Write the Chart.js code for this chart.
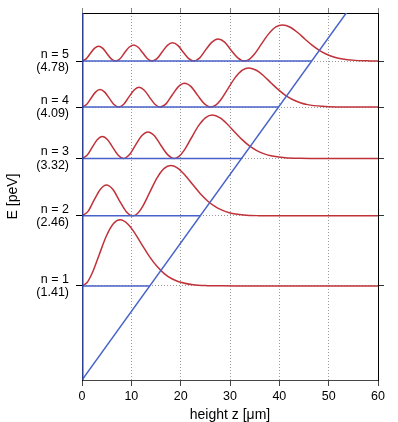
<!DOCTYPE html>
<html><head><meta charset="utf-8">
<script src="https://cdn.jsdelivr.net/npm/chart.js@4"></script>
<style>html,body{margin:0;padding:0;background:#fff}#wrap{width:398px;height:422px}</style>
</head><body><div id="wrap"><canvas id="c" width="398" height="422"></canvas></div>
<script>
// ---- data ----
const levelN = [1, 2, 3, 4, 5];
const levelE = [1.41, 2.46, 3.32, 4.09, 4.78];      // peV
const turnZ  = [13.7, 24.0, 32.4, 39.9, 46.6];      // µm, classical turning points
const potZ   = [0, 60];
const potE   = [0, 6.16];
const wallZ  = [0, 0];
const wallE  = [0, 5.5];
const xStep  = 10;

// probability densities above each level (peV units of the plot)
const psi1Z = [0, 0.99, 1.98, 3.45, 4.92, 6.39, 7.74, 9.32, 10.79, 12.26, 13.72, 15.19, 16.66, 18.13, 19.60, 22.53, 25.47, 28.40, 31.34, 60];
const psi1D = [0, 0.047, 0.178, 0.461, 0.744, 0.934, 0.990, 0.925, 0.781, 0.605, 0.435, 0.293, 0.185, 0.111, 0.063, 0.018, 0.004, 0.001, 0, 0];

const psi2Z = [0, 1.23, 2.47, 3.70, 4.93, 6.27, 7.60, 8.94, 10.27, 11.26, 12.25, 13.72, 15.19, 16.66, 18.01, 19.59, 21.06, 22.53, 23.99, 25.46, 26.93, 28.40, 29.87, 32.80, 35.74, 38.67, 41.61, 60];
const psi2D = [0, 0.067, 0.238, 0.395, 0.462, 0.395, 0.225, 0.067, 0, 0.036, 0.136, 0.351, 0.567, 0.712, 0.755, 0.705, 0.595, 0.461, 0.331, 0.223, 0.141, 0.085, 0.048, 0.014, 0.003, 0.001, 0, 0];

const psi3Z = [0, 1.03, 2.06, 3.09, 4.12, 5.19, 6.26, 7.34, 8.41, 9.64, 10.88, 12.11, 13.34, 14.68, 16.01, 17.35, 18.68, 19.67, 20.66, 22.13, 23.60, 25.07, 26.42, 28.00, 29.47, 30.94, 32.40, 33.87, 35.34, 36.81, 38.28, 41.21, 44.15, 47.08, 50.02, 60];
const psi3D = [0, 0.048, 0.166, 0.280, 0.328, 0.280, 0.162, 0.048, 0, 0.058, 0.205, 0.340, 0.398, 0.340, 0.194, 0.058, 0, 0.031, 0.117, 0.303, 0.488, 0.613, 0.650, 0.608, 0.513, 0.397, 0.286, 0.192, 0.122, 0.073, 0.041, 0.012, 0.003, 0.001, 0, 0];

const psi4Z = [0, 0.92, 1.83, 2.75, 3.66, 4.60, 5.55, 6.49, 7.43, 8.46, 9.49, 10.52, 11.55, 12.62, 13.70, 14.77, 15.84, 17.07, 18.31, 19.54, 20.77, 22.11, 23.45, 24.78, 26.12, 27.11, 28.10, 29.57, 31.04, 32.51, 33.86, 35.44, 36.91, 38.38, 39.84, 41.31, 42.78, 44.25, 45.72, 48.65, 51.59, 54.52, 57.46, 60];
const psi4D = [0, 0.038, 0.133, 0.224, 0.262, 0.224, 0.130, 0.038, 0, 0.043, 0.150, 0.253, 0.296, 0.253, 0.146, 0.043, 0, 0.052, 0.185, 0.307, 0.359, 0.307, 0.175, 0.052, 0, 0.028, 0.106, 0.273, 0.441, 0.553, 0.587, 0.548, 0.463, 0.358, 0.258, 0.173, 0.110, 0.066, 0.037, 0.011, 0.002, 0.001, 0, 0];

const psi5Z = [0, 0.84, 1.68, 2.52, 3.36, 4.22, 5.08, 5.93, 6.79, 7.71, 8.62, 9.54, 10.45, 11.39, 12.34, 13.28, 14.22, 15.25, 16.28, 17.31, 18.34, 19.42, 20.49, 21.57, 22.64, 23.87, 25.10, 26.34, 27.57, 28.91, 30.24, 31.58, 32.91, 33.90, 34.89, 36.36, 37.83, 39.30, 40.65, 42.23, 43.70, 45.17, 46.63, 48.10, 49.57, 51.04, 52.51, 55.44, 58.38, 60];
const psi5D = [0, 0.032, 0.112, 0.190, 0.222, 0.190, 0.110, 0.032, 0, 0.035, 0.123, 0.207, 0.242, 0.207, 0.120, 0.035, 0, 0.040, 0.139, 0.234, 0.274, 0.234, 0.135, 0.040, 0, 0.048, 0.171, 0.284, 0.332, 0.284, 0.161, 0.048, 0, 0.026, 0.098, 0.253, 0.407, 0.512, 0.542, 0.507, 0.428, 0.331, 0.238, 0.160, 0.102, 0.061, 0.035, 0.010, 0.002, 0.001];

// ---- build ----
const FONT = "'Liberation Sans', Arial, Helvetica, sans-serif";
const BLUE = '#4762c9';
const RED = '#c0323a';
const psiZ = [psi1Z, psi2Z, psi3Z, psi4Z, psi5Z];
const psiD = [psi1D, psi2D, psi3D, psi4D, psi5D];

const pts = (xs, ys) => xs.map((x, i) => ({x: x, y: ys[i]}));
const base = {pointRadius: 0, fill: false, tension: 0, borderCapStyle: 'butt'};

const datasets = [];
datasets.push(Object.assign({}, base, {data: pts(wallZ, wallE), borderColor: '#2b3f93', borderWidth: 3}));
levelE.forEach((E, i) => {
  datasets.push(Object.assign({}, base, {data: pts([0, turnZ[i]], [E, E]), borderColor: BLUE, borderWidth: 1.5}));
});
datasets.push(Object.assign({}, base, {data: pts(potZ, potE), borderColor: BLUE, borderWidth: 1.5}));
levelE.forEach((E, i) => {
  datasets.push(Object.assign({}, base, {
    data: pts(psiZ[i], psiD[i].map(d => E + d)),
    borderColor: RED, borderWidth: 1.5, cubicInterpolationMode: 'monotone'
  }));
});

const noPad = s => { s.paddingTop = 0; s.paddingBottom = 0; s.paddingLeft = 0; s.paddingRight = 0; };
const levelTicks = s => { s.ticks = levelE.map(v => ({value: v})); };

new Chart(document.getElementById('c'), {
  type: 'line',
  data: {datasets: datasets},
  options: {
    responsive: false,
    animation: false,
    devicePixelRatio: 1,
    events: [],
    layout: {padding: 0},
    plugins: {legend: {display: false}, tooltip: {enabled: false}},
    scales: {
      x: {
        type: 'linear', position: 'bottom', min: 0, max: 60,
        afterFit: s => { s.height = 42; noPad(s); },
        ticks: {stepSize: xStep, color: '#000', font: {family: FONT, size: 12.5}, padding: 3, maxRotation: 0},
        grid: {
          color: c => (c.tick && (c.tick.value === 0 || c.tick.value === 60)) ? 'rgba(0,0,0,0)' : '#9a9a9a',
          lineWidth: 1, tickColor: '#444', tickLength: 6
        },
        border: {color: '#444', width: 1, dash: [1, 2]},
        title: {display: true, text: 'height z [μm]', color: '#000', font: {family: FONT, size: 14, lineHeight: 1}, padding: {top: 0, bottom: 0}}
      },
      x2: {
        type: 'linear', position: 'top', min: 0, max: 60,
        afterFit: s => { s.height = 13; noPad(s); },
        ticks: {display: false, stepSize: xStep},
        grid: {drawOnChartArea: false, tickColor: '#808080', tickLength: 5},
        border: {color: '#000', width: 1}
      },
      y: {
        type: 'linear', position: 'left', min: 0, max: 5.5,
        afterBuildTicks: levelTicks,
        afterFit: s => { s.width = 82; noPad(s); },
        ticks: {
          autoSkip: false, color: '#000', font: {family: FONT, size: 12.5, lineHeight: 1.08}, padding: 7,
          callback: (v, i) => ['n = ' + levelN[i], '(' + levelE[i].toFixed(2) + ')']
        },
        grid: {color: '#9a9a9a', lineWidth: 1, tickColor: '#000', tickLength: 6},
        border: {color: '#000', width: 1, dash: [1, 2]},
        title: {display: true, text: 'E [peV]', color: '#000', font: {family: FONT, size: 14, lineHeight: 1}, padding: {top: 6, bottom: 0}}
      },
      y2: {
        type: 'linear', position: 'right', min: 0, max: 5.5,
        afterBuildTicks: levelTicks,
        afterFit: s => { s.width = 20; noPad(s); },
        ticks: {display: false},
        grid: {drawOnChartArea: false, tickColor: '#333', tickLength: 6},
        border: {color: '#000', width: 1}
      }
    }
  }
});
</script>
</body></html>
